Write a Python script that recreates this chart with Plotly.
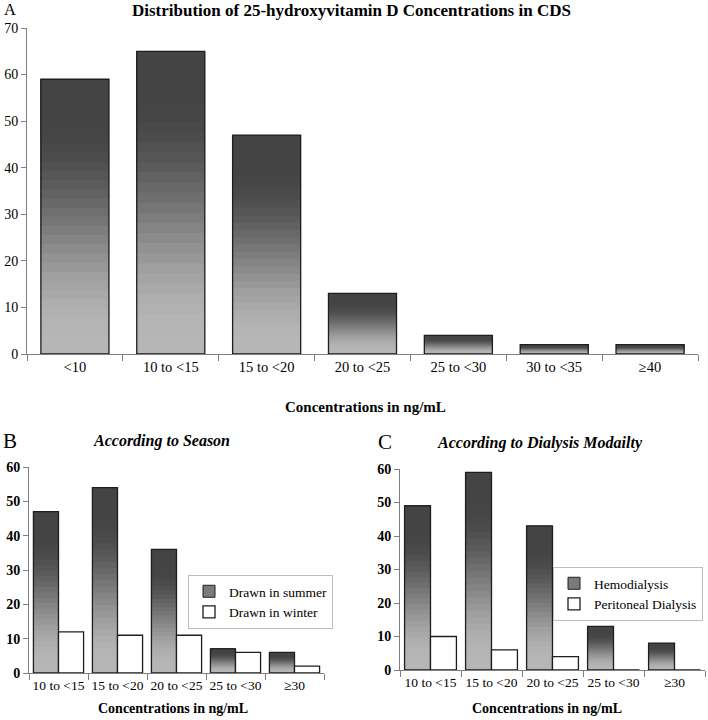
import plotly.graph_objects as go

# ---------------- data ----------------
cats_a = ["<10", "10 to <15", "15 to <20", "20 to <25", "25 to <30", "30 to <35", "≥40"]
vals_a = [59, 65, 47, 13, 4, 2, 2]

cats_bc = ["10 to <15", "15 to <20", "20 to <25", "25 to <30", "≥30"]
summer = [47, 54, 36, 7, 6]
winter = [12, 11, 11, 6, 2]
hemo = [49, 59, 43, 13, 8]
perit = [10, 6, 4, 0, 0]

FONT = "Liberation Serif"
N_SEG = 30
OUTLINE = "#1e1e1e"
AXIS_COLOR = "#7f7f7f"
BW = 0.425  # bar width (category units) for the grouped panels


def shade(k):
    # k: 0 = bottom segment, N_SEG-1 = top segment
    t = (k + 0.5) / N_SEG
    s = min(max((t - 0.05) / 0.8, 0.0), 1.0)
    s = s * s * (3 - 2 * s)
    light, dark = 182, 68
    v = round(light + (dark - light) * s)
    return f"rgb({v},{v},{v})"


fig = go.Figure()


def gradient_bars(cats, vals, xa, ya, group, name=None, legend=None, geom=None):
    geom = geom or {}
    # overlapping segments (each from its base up to the bar top) to avoid seams
    for k in range(N_SEG):
        fig.add_trace(go.Bar(
            x=cats, y=[v * (N_SEG - k) / N_SEG for v in vals], base=[v * k / N_SEG for v in vals],
            marker=dict(color=shade(k), line=dict(width=0)),
            offsetgroup=group, xaxis=xa, yaxis=ya, showlegend=False, hoverinfo="skip", **geom))
    fig.add_trace(go.Bar(
        x=cats, y=vals, marker=dict(color="rgba(0,0,0,0)", line=dict(color=OUTLINE, width=1.3)),
        offsetgroup=group, xaxis=xa, yaxis=ya, showlegend=False, name=name or "", **geom))
    if name:
        fig.add_trace(go.Bar(
            x=cats, y=[None] * len(cats), name=name,
            marker=dict(color="#7a7a7a", line=dict(color=OUTLINE, width=1)),
            offsetgroup=group, xaxis=xa, yaxis=ya, showlegend=True, legend=legend, **geom))


def white_bars(cats, vals, xa, ya, group, name, legend, geom):
    fig.add_trace(go.Bar(
        x=cats, y=vals, name=name,
        marker=dict(color="white", line=dict(color=OUTLINE, width=1.3)),
        offsetgroup=group, xaxis=xa, yaxis=ya, showlegend=True, legend=legend, **geom))


left = dict(offset=-BW, width=BW)
right = dict(offset=0, width=BW)

# Panel A
gradient_bars(cats_a, vals_a, "x", "y", "a")
# Panel B
gradient_bars(cats_bc, summer, "x2", "y2", "summer", "Drawn in summer", "legend", left)
white_bars(cats_bc, winter, "x2", "y2", "winter", "Drawn in winter", "legend", right)
# Panel C
gradient_bars(cats_bc, hemo, "x3", "y3", "hemo", "Hemodialysis", "legend2", left)
white_bars(cats_bc, perit, "x3", "y3", "perit", "Peritoneal Dialysis", "legend2", right)

W, H = 708, 720


def px_x(p):
    return p / W


def px_y(p):
    return 1 - p / H


xcommon = dict(type="category", showline=True, linecolor=AXIS_COLOR, linewidth=1,
               ticks="outside", tickson="boundaries", ticklen=6, tickcolor=AXIS_COLOR,
               showgrid=False, zeroline=False, automargin=False, tickangle=0)
ycommon = dict(showline=True, linecolor=AXIS_COLOR, linewidth=1, ticks="outside",
               ticklen=5, tickcolor=AXIS_COLOR, showgrid=False, zeroline=False,
               automargin=False, dtick=10)

fig.update_layout(
    width=W, height=H, template="none", barmode="group",
    margin=dict(l=0, r=0, t=0, b=0),
    paper_bgcolor="white", plot_bgcolor="white",
    font=dict(family=FONT, color="black"),
    bargap=0.29, bargroupgap=0,
    xaxis=dict(domain=[px_x(27), px_x(698)], anchor="y",
               tickfont=dict(family=FONT, size=14.5, color="black"), **xcommon),
    yaxis=dict(domain=[px_y(354), px_y(28)], anchor="x", range=[0, 70],
               tickfont=dict(family=FONT, size=14, color="black"), **ycommon),
    xaxis2=dict(domain=[px_x(29), px_x(324)], anchor="y2",
                tickfont=dict(family=FONT, size=13.5, color="black"), **xcommon),
    yaxis2=dict(domain=[px_y(673), px_y(467)], anchor="x2", range=[0, 60],
                tickfont=dict(family=FONT, size=14, color="black", weight="bold"), **ycommon),
    xaxis3=dict(domain=[px_x(400), px_x(705)], anchor="y3",
                tickfont=dict(family=FONT, size=13.5, color="black"), **xcommon),
    yaxis3=dict(domain=[px_y(670), px_y(469)], anchor="x3", range=[0, 60],
                tickfont=dict(family=FONT, size=14, color="black", weight="bold"), **ycommon),
    legend=dict(x=px_x(188), y=px_y(575), xanchor="left", yanchor="top",
                bordercolor="#bdbdbd", borderwidth=1, bgcolor="white",
                font=dict(family=FONT, size=13.5, color="black"), itemwidth=30,
                traceorder="normal"),
    legend2=dict(x=px_x(553), y=px_y(567), xanchor="left", yanchor="top",
                 bordercolor="#bdbdbd", borderwidth=1, bgcolor="white",
                 font=dict(family=FONT, size=13.5, color="black"), itemwidth=30,
                 traceorder="normal"),
)

annotations = [
    dict(text="A", x=px_x(9.5), y=px_y(10), size=16.5, bold=False, italic=False),
    dict(text="Distribution of 25-hydroxyvitamin D Concentrations in CDS",
         x=px_x(351), y=px_y(11), size=17, bold=True, italic=False),
    dict(text="Concentrations in ng/mL", x=px_x(365), y=px_y(407), size=15, bold=True, italic=False),
    dict(text="B", x=px_x(10), y=px_y(441), size=21, bold=False, italic=False),
    dict(text="According to Season", x=px_x(161), y=px_y(441), size=16, bold=True, italic=True),
    dict(text="Concentrations in ng/mL", x=px_x(173), y=px_y(708), size=14, bold=True, italic=False),
    dict(text="C", x=px_x(385), y=px_y(442), size=21, bold=False, italic=False),
    dict(text="According to Dialysis Modailty", x=px_x(540), y=px_y(443), size=16, bold=True, italic=True),
    dict(text="Concentrations in ng/mL", x=px_x(547), y=px_y(708), size=14, bold=True, italic=False),
]
for a in annotations:
    fig.add_annotation(
        text=a["text"], x=a["x"], y=a["y"], xref="paper", yref="paper",
        xanchor="center", yanchor="middle", showarrow=False,
        font=dict(family=FONT, size=a["size"], color="black",
                  weight="bold" if a["bold"] else "normal",
                  style="italic" if a["italic"] else "normal"))

fig.write_html("out.html", config={"displayModeBar": False},
               post_script="document.body.style.margin='0';document.body.style.overflow='hidden';")
